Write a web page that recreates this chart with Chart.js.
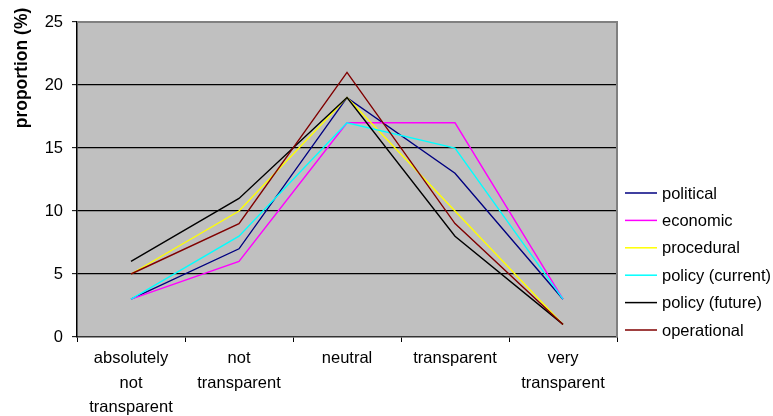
<!DOCTYPE html>
<html>
<head>
<meta charset="utf-8">
<script src="https://cdn.jsdelivr.net/npm/chart.js@4"></script>
<style>
  html, body { margin: 0; padding: 0; background: #ffffff; }
  #wrap { width: 773px; height: 416px; position: relative; }
</style>
</head>
<body>
<div id="wrap"><canvas id="chart" width="773" height="416"></canvas></div>
<script>
// Rating categories (x axis)
const categories = [
  ["absolutely", "not", "transparent"],
  ["not", "transparent"],
  "neutral",
  "transparent",
  ["very", "transparent"]
];

// Proportion of answers (%) per transparency type
const political      = [3, 7, 19, 13, 3];
const economic       = [3, 6, 17, 17, 3];
const procedural     = [5, 10, 19, 10, 1];
const policyCurrent  = [3, 8, 17, 15, 3];
const policyFuture   = [6, 11, 19, 8, 1];
const operational    = [5, 9, 21, 9, 1];

const seriesNames  = ["political", "economic", "procedural", "policy (current)", "policy (future)", "operational"];
const seriesValues = [political, economic, procedural, policyCurrent, policyFuture, operational];
const seriesColors = ["#000080", "#ff00ff", "#ffff00", "#00ffff", "#000000", "#800000"];

const yTicks = [0, 5, 10, 15, 20, 25];

const FONT = "'Liberation Sans', Arial, sans-serif";

// Grey plot background, plus its frame on the top and right
const plotFrame = {
  id: 'plotFrame',
  beforeDatasetsDraw(chart) {
    const { ctx, chartArea: a } = chart;
    ctx.save();
    ctx.strokeStyle = '#808080';
    ctx.lineWidth = 2;
    ctx.beginPath();
    ctx.moveTo(a.left, a.top);
    ctx.lineTo(a.right, a.top);
    ctx.lineTo(a.right, a.bottom);
    ctx.stroke();
    ctx.restore();
  },
  beforeDraw(chart) {
    const { ctx, chartArea: a } = chart;
    ctx.save();
    ctx.fillStyle = '#c0c0c0';
    ctx.fillRect(a.left, a.top, a.right - a.left, a.bottom - a.top);
    ctx.restore();
  }
};

// Axis title and line-sample legend on the right
const sideText = {
  id: 'sideText',
  afterDraw(chart) {
    const { ctx } = chart;
    ctx.save();
    ctx.fillStyle = '#000';
    ctx.font = `bold 17.5px ${FONT}`;
    ctx.textAlign = 'center';
    ctx.textBaseline = 'middle';
    ctx.translate(22, 68);
    ctx.rotate(-Math.PI / 2);
    ctx.fillText('proportion (%)', 0, 0);
    ctx.restore();

    ctx.save();
    ctx.font = `16.5px ${FONT}`;
    ctx.textAlign = 'left';
    ctx.textBaseline = 'middle';
    chart.data.datasets.forEach((ds, i) => {
      const y = 193 + i * 27.4;
      ctx.strokeStyle = ds.borderColor;
      ctx.lineWidth = 1.5;
      ctx.beginPath();
      ctx.moveTo(625, y);
      ctx.lineTo(657, y);
      ctx.stroke();
      ctx.fillStyle = '#000';
      ctx.fillText(ds.label, 662, y + 1);
    });
    ctx.restore();
  }
};

new Chart(document.getElementById('chart'), {
  type: 'line',
  data: {
    labels: categories,
    datasets: seriesNames.map((name, i) => ({
      label: name,
      data: seriesValues[i],
      borderColor: seriesColors[i],
      backgroundColor: seriesColors[i],
      borderWidth: 1.4,
      pointRadius: 0,
      tension: 0,
      fill: false,
      order: seriesNames.length - i
    }))
  },
  plugins: [plotFrame, sideText],
  options: {
    responsive: false,
    animation: false,
    layout: { padding: { left: 0, right: 156, top: 22, bottom: 0 } },
    plugins: {
      legend: { display: false },
      tooltip: { enabled: false }
    },
    scales: {
      x: {
        offset: true,
        afterFit(scale) { scale.height = 79; },
        border: { display: true, color: '#333333', width: 1.5 },
        grid: {
          offset: true,
          drawOnChartArea: false,
          drawTicks: true,
          tickLength: 5,
          tickColor: '#000000',
          tickWidth: 1
        },
        ticks: {
          color: '#000',
          font: { family: FONT, size: 16.5, lineHeight: 1.5 },
          padding: 4,
          autoSkip: false,
          maxRotation: 0,
          minRotation: 0
        }
      },
      y: {
        min: 0,
        max: 25,
        afterFit(scale) { scale.width = 77; },
        afterBuildTicks(scale) { scale.ticks = yTicks.map(v => ({ value: v })); },
        border: { display: true, color: '#000000', width: 1.5 },
        grid: {
          color: (c) => (c.tick && (c.tick.value === 0 || c.tick.value === 25)) ? 'rgba(0,0,0,0)' : '#000000',
          lineWidth: 1.3,
          drawTicks: true,
          tickLength: 5,
          tickColor: '#000000',
          tickWidth: 1
        },
        ticks: {
          color: '#000',
          font: { family: FONT, size: 16.5 },
          padding: 9
        }
      }
    }
  }
});
</script>
</body>
</html>
